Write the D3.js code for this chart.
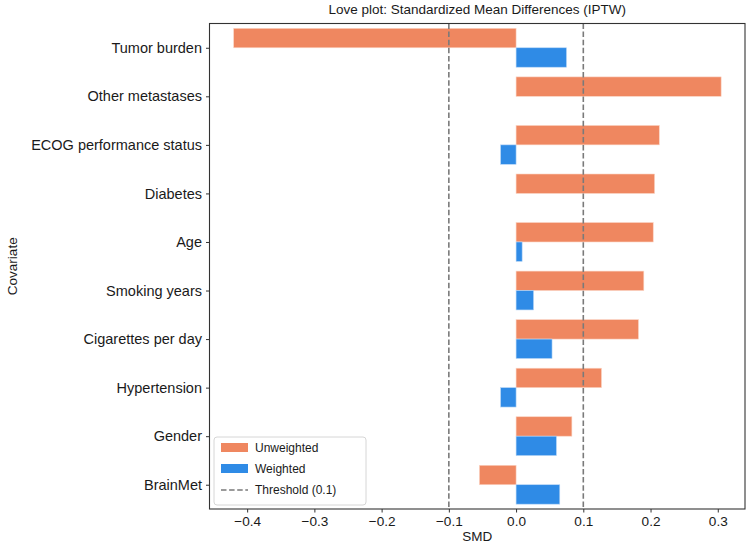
<!DOCTYPE html>
<html><head><meta charset="utf-8">
<script src="https://cdn.jsdelivr.net/npm/d3@7"></script>
<style>
html,body{margin:0;padding:0;background:#fff;}
text{font-family:"Liberation Sans",Arial,Helvetica,sans-serif;fill:#1a1a1a;}
</style></head>
<body><svg id="chart" width="748" height="548"></svg>
<script>
const covariates = ["Tumor burden","Other metastases","ECOG performance status","Diabetes","Age","Smoking years","Cigarettes per day","Hypertension","Gender","BrainMet"];
const unweighted = [-0.420, 0.305, 0.213, 0.206, 0.204, 0.190, 0.182, 0.127, 0.083, -0.0545];
const weighted   = [0.075, 0.000, -0.023, 0.000, 0.009, 0.026, 0.0535, -0.023, 0.060, 0.065];
const xTicks = [-0.4,-0.3,-0.2,-0.1,0.0,0.1,0.2,0.3];
const threshold = 0.1;
const seriesNames = ["Unweighted","Weighted"];
const colors = ["#ef8760","#2f8be6"];

const svg = d3.select("#chart");
const L = 209.5, R = 745, T = 23.5, B = 509;
const n = covariates.length;
const x = d3.scaleLinear().domain([-0.456, 0.3405]).range([L, R]);
const y = d3.scaleLinear().domain([-0.5, n - 0.5]).range([B, T]);
const pos = (i) => n - 1 - i;
const bandH = y(0) - y(0.4);

const g = svg.append("g");
covariates.forEach((c, i) => {
  const p = pos(i);
  const u = unweighted[i], w = weighted[i];
  g.append("rect").attr("x", x(Math.min(0,u))).attr("width", Math.abs(x(u)-x(0)))
    .attr("y", y(p + 0.4)).attr("height", bandH)
    .attr("fill", colors[0]).attr("stroke","#fbd3c2").attr("stroke-width",0.6);
  if (w !== 0) g.append("rect").attr("x", x(Math.min(0,w))).attr("width", Math.abs(x(w)-x(0)))
    .attr("y", y(p)).attr("height", bandH)
    .attr("fill", colors[1]).attr("stroke","#b8d6f6").attr("stroke-width",0.6);
});

[-threshold, threshold].forEach(t => {
  svg.append("line").attr("x1", x(t)).attr("x2", x(t)).attr("y1", T).attr("y2", B)
    .attr("stroke","#7a7a7a").attr("stroke-width",1.6).attr("stroke-dasharray","5.5,2.6");
});

svg.append("rect").attr("x",L).attr("y",T).attr("width",R-L).attr("height",B-T)
  .attr("fill","none").attr("stroke","#333").attr("stroke-width",1.1);

const fmt = v => (v < 0 ? "\u2212" : "") + Math.abs(v).toFixed(1);
const xa = svg.append("g").attr("transform",`translate(0,${B})`)
  .call(d3.axisBottom(x).tickValues(xTicks).tickFormat(fmt).tickSize(3.5).tickPadding(3.5));
xa.select(".domain").remove();
xa.selectAll(".tick line").attr("stroke","#333").attr("stroke-width",1);
xa.selectAll(".tick text").attr("font-size",13.6).attr("fill","#1a1a1a")
  .style("font-family",'"Liberation Sans",Arial,sans-serif');

const ya = svg.append("g").attr("transform",`translate(${L},0)`)
  .call(d3.axisLeft(y).tickValues(d3.range(n)).tickFormat(p => covariates[n-1-p]).tickSize(3.5).tickPadding(4));
ya.select(".domain").remove();
ya.selectAll(".tick line").attr("stroke","#333").attr("stroke-width",1);
ya.selectAll(".tick text").attr("font-size",14.5).attr("fill","#1a1a1a")
  .style("font-family",'"Liberation Sans",Arial,sans-serif');

svg.append("text").attr("x",(L+R)/2).attr("y",14).attr("text-anchor","middle").attr("font-size",13.5)
  .text("Love plot: Standardized Mean Differences (IPTW)");
svg.append("text").attr("x",(L+R)/2).attr("y",541).attr("text-anchor","middle").attr("font-size",13.5).text("SMD");
svg.append("text").attr("transform",`translate(17,${(T+B)/2}) rotate(-90)`).attr("text-anchor","middle")
  .attr("font-size",13.5).text("Covariate");

const lg = svg.append("g").attr("transform","translate(214,437)");
lg.append("rect").attr("x",0).attr("y",0).attr("width",152).attr("height",68).attr("rx",3)
  .attr("fill","#fff").attr("fill-opacity",0.85).attr("stroke","#d6d6d6").attr("stroke-width",1);
const items = [
  {label: seriesNames[0], type:"patch", color: colors[0]},
  {label: seriesNames[1], type:"patch", color: colors[1]},
  {label: "Threshold (0.1)", type:"line"}
];
items.forEach((it, k) => {
  const cy = 11 + k*21;
  if (it.type === "patch") {
    lg.append("rect").attr("x",7).attr("y",cy-5).attr("width",27).attr("height",9).attr("fill",it.color);
  } else {
    lg.append("line").attr("x1",7).attr("x2",34).attr("y1",cy).attr("y2",cy)
      .attr("stroke","#7a7a7a").attr("stroke-width",1.6).attr("stroke-dasharray","5.5,2.6");
  }
  lg.append("text").attr("x",41).attr("y",cy+4).attr("font-size",12).text(it.label);
});
</script></body></html>
